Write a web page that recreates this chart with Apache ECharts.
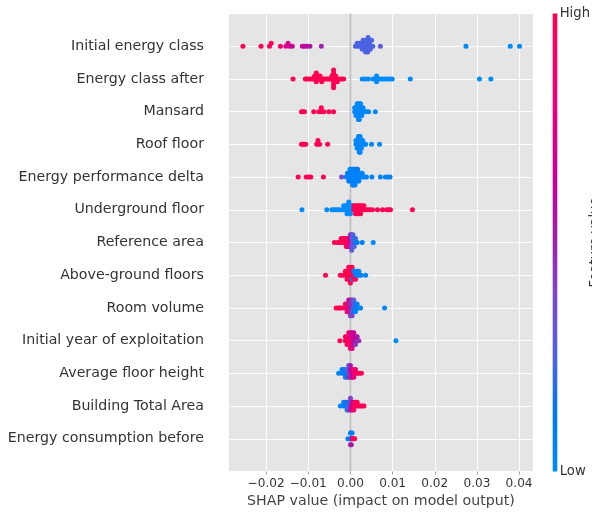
<!DOCTYPE html>
<html>
<head>
<meta charset="utf-8">
<script src="https://cdn.jsdelivr.net/npm/echarts@6/dist/echarts.min.js"></script>
<style>
  html, body { margin: 0; padding: 0; background: #ffffff; }
  #chart { width: 592px; height: 514px; }
</style>
</head>
<body>
<div id="chart"></div>
<script>
// Features, most important first (drawn top to bottom)
const features = [
  'Initial energy class',
  'Energy class after',
  'Mansard',
  'Roof floor',
  'Energy performance delta',
  'Underground floor',
  'Reference area',
  'Above-ground floors',
  'Room volume',
  'Initial year of exploitation',
  'Average floor height',
  'Building Total Area',
  'Energy consumption before'
];

// Each sample: [SHAP value, feature value scaled to 0 (low) .. 1 (high)]
const initialEnergyClass = [
  [-0.0255, 1], [-0.0212, 1], [-0.0192, 1], [-0.0188, 0.95], [-0.0166, 0.9],
  [-0.0153, 0.75], [-0.0148, 0.7], [-0.0144, 0.7], [-0.0138, 0.65],
  [-0.0114, 0.65], [-0.0109, 0.6], [-0.0103, 0.6], [-0.0096, 0.55], [-0.0069, 0.5],
  [0.0012, 0.25], [0.0016, 0.25], [0.0019, 0.25], [0.0022, 0.25], [0.0024, 0.25],
  [0.0026, 0.25], [0.0028, 0.25], [0.0030, 0.25], [0.0031, 0.25], [0.0033, 0.25],
  [0.0034, 0.25], [0.0035, 0.25], [0.0036, 0.25], [0.0037, 0.25], [0.0038, 0.25],
  [0.0039, 0.25], [0.0040, 0.25], [0.0041, 0.25], [0.0042, 0.25], [0.0044, 0.25],
  [0.0045, 0.25], [0.0047, 0.25], [0.0050, 0.25], [0.0053, 0.25],
  [0.0071, 0.3], [0.0274, 0], [0.0379, 0], [0.0401, 0]
];

const energyClassAfter = [
  [-0.0136, 1],
  [-0.0107, 1], [-0.0103, 1], [-0.0098, 1], [-0.0093, 1], [-0.0089, 1],
  [-0.0085, 1], [-0.0085, 1], [-0.0081, 1], [-0.0081, 1], [-0.0081, 1],
  [-0.0081, 1], [-0.0077, 1], [-0.0077, 1], [-0.0072, 1], [-0.0072, 1],
  [-0.0068, 1], [-0.0064, 1], [-0.0060, 1], [-0.0056, 1], [-0.0052, 1],
  [-0.0048, 1], [-0.0044, 1], [-0.0044, 1], [-0.0040, 1], [-0.0040, 1],
  [-0.0040, 1], [-0.0040, 1], [-0.0040, 1], [-0.0035, 1], [-0.0035, 1],
  [-0.0031, 1], [-0.0026, 1], [-0.0021, 1], [-0.0016, 1],
  [0.0028, 0], [0.0035, 0], [0.0042, 0], [0.0053, 0], [0.0062, 0],
  [0.0062, 0], [0.0062, 0], [0.0067, 0], [0.0072, 0], [0.0077, 0],
  [0.0083, 0], [0.0089, 0], [0.0094, 0], [0.0099, 0], [0.0142, 0],
  [0.0306, 0], [0.0333, 0]
];

const mansard = [
  [-0.0116, 1], [-0.0113, 1], [-0.0109, 1], [-0.0087, 1], [-0.0075, 1],
  [-0.0069, 1], [-0.0069, 1], [-0.0063, 1], [-0.0051, 1], [-0.0040, 1],
  [0.0010, 0.02], [0.0010, 0.02],
  [0.0013, 0.02], [0.0013, 0.02], [0.0013, 0.02],
  [0.0016, 0.02], [0.0016, 0.02], [0.0016, 0.02], [0.0016, 0.02],
  [0.0019, 0.02], [0.0019, 0.02], [0.0019, 0.02], [0.0019, 0.02], [0.0019, 0.02],
  [0.0021, 0.02], [0.0021, 0.02], [0.0021, 0.02], [0.0021, 0.02], [0.0021, 0.02],
  [0.0024, 0.02], [0.0024, 0.02], [0.0024, 0.02], [0.0024, 0.02],
  [0.0027, 0.02], [0.0027, 0.02], [0.0027, 0.02],
  [0.0030, 0.02], [0.0030, 0.02],
  [0.0034, 0.02], [0.0038, 0.02], [0.0043, 0.02], [0.0059, 0.02]
];

const roofFloor = [
  [-0.0116, 1], [-0.0113, 1], [-0.0110, 1], [-0.0106, 1], [-0.0080, 1],
  [-0.0077, 1], [-0.0077, 1], [-0.0073, 1], [-0.0054, 1],
  [0.0013, 0.02], [0.0013, 0.02],
  [0.0016, 0.02], [0.0016, 0.02], [0.0016, 0.02],
  [0.0019, 0.02], [0.0019, 0.02], [0.0019, 0.02], [0.0019, 0.02],
  [0.0021, 0.02], [0.0021, 0.02], [0.0021, 0.02], [0.0021, 0.02], [0.0021, 0.02],
  [0.0023, 0.02], [0.0023, 0.02], [0.0023, 0.02], [0.0023, 0.02], [0.0023, 0.02],
  [0.0026, 0.02], [0.0026, 0.02], [0.0026, 0.02],
  [0.0029, 0.02], [0.0029, 0.02],
  [0.0033, 0.02], [0.0036, 0.02], [0.0050, 0.02], [0.0069, 0.02]
];

const energyPerformanceDelta = [
  [-0.0124, 1], [-0.0105, 1], [-0.0099, 1], [-0.0094, 1], [-0.0064, 1],
  [-0.0021, 0.35],
  [-0.0010, 0.05],
  [-0.0007, 0.05], [-0.0007, 0.12],
  [-0.0004, 0.05], [-0.0004, 0.05], [-0.0004, 0.12],
  [-0.0001, 0.05], [-0.0001, 0.12], [-0.0001, 0.05], [-0.0001, 0.05],
  [0.0002, 0.05], [0.0002, 0.05], [0.0002, 0.12], [0.0002, 0.05],
  [0.0005, 0.05], [0.0005, 0.12], [0.0005, 0.05], [0.0005, 0.05], [0.0005, 0.05],
  [0.0008, 0.05], [0.0008, 0.05], [0.0008, 0.12], [0.0008, 0.05], [0.0008, 0.05],
  [0.0011, 0.05], [0.0011, 0.05], [0.0011, 0.05], [0.0011, 0.12], [0.0011, 0.05],
  [0.0014, 0.05], [0.0014, 0.12], [0.0014, 0.05], [0.0014, 0.05],
  [0.0017, 0.05], [0.0017, 0.05], [0.0017, 0.05], [0.0017, 0.12],
  [0.0020, 0.05], [0.0020, 0.05], [0.0020, 0.05],
  [0.0024, 0.05], [0.0024, 0.05],
  [0.0028, 0.05], [0.0028, 0.05],
  [0.0033, 0.05], [0.0038, 0.05],
  [0.0051, 0.05], [0.0071, 0.05], [0.0083, 0.05], [0.0089, 0.05], [0.0094, 0.05]
];

const undergroundFloor = [
  [-0.0115, 0], [-0.0056, 0], [-0.0044, 0], [-0.0040, 0], [-0.0035, 0],
  [-0.0030, 0], [-0.0026, 0],
  [-0.0020, 0],
  [-0.0016, 0], [-0.0016, 0],
  [-0.0012, 0], [-0.0012, 0],
  [-0.0008, 0], [-0.0008, 0], [-0.0008, 0],
  [-0.0004, 0], [-0.0004, 0], [-0.0004, 0], [-0.0004, 0],
  [0.0000, 0], [0.0000, 0], [0.0000, 0],
  [0.0004, 0], [0.0004, 0],
  [0.0008, 1], [0.0008, 1],
  [0.0012, 1], [0.0012, 1], [0.0012, 1],
  [0.0016, 1], [0.0016, 1], [0.0016, 1],
  [0.0020, 1], [0.0020, 1], [0.0020, 1],
  [0.0024, 1], [0.0024, 1], [0.0024, 1],
  [0.0028, 1], [0.0028, 1],
  [0.0032, 1], [0.0032, 1],
  [0.0036, 1], [0.0041, 1], [0.0046, 1], [0.0052, 1], [0.0064, 1],
  [0.0076, 1], [0.0086, 1], [0.0091, 1], [0.0095, 1], [0.0147, 1]
];

const referenceArea = [
  [-0.0038, 1], [-0.0030, 1], [-0.0026, 1],
  [-0.0022, 1], [-0.0022, 1],
  [-0.0018, 1], [-0.0018, 1],
  [-0.0014, 1], [-0.0014, 1],
  [-0.0010, 1], [-0.0010, 1], [-0.0010, 0.95],
  [-0.0006, 1], [-0.0006, 0.9], [-0.0006, 0.85],
  [-0.0003, 0.9], [-0.0003, 0.8], [-0.0003, 0.75],
  [0.0000, 0.7], [0.0000, 0.6], [0.0000, 0.55], [0.0000, 0.5],
  [0.0003, 0.45], [0.0003, 0.4], [0.0003, 0.35], [0.0003, 0.4], [0.0003, 0.3],
  [0.0006, 0.35], [0.0006, 0.3], [0.0006, 0.4], [0.0006, 0.25],
  [0.0009, 0.3], [0.0009, 0.2], [0.0009, 0.25],
  [0.0012, 0.15], [0.0012, 0.2],
  [0.0016, 0.1], [0.0028, 0.05], [0.0054, 0]
];

const aboveGroundFloors = [
  [-0.0059, 1], [-0.0024, 1], [-0.0018, 1],
  [-0.0012, 1], [-0.0012, 1],
  [-0.0008, 1], [-0.0008, 1], [-0.0008, 1],
  [-0.0004, 1], [-0.0004, 1], [-0.0004, 1], [-0.0004, 1],
  [0.0000, 1], [0.0000, 1], [0.0000, 1], [0.0000, 1], [0.0000, 1],
  [0.0004, 1], [0.0004, 1], [0.0004, 0.05], [0.0004, 1],
  [0.0008, 1], [0.0008, 0.05], [0.0008, 1],
  [0.0012, 0.05], [0.0012, 0.05], [0.0012, 1],
  [0.0016, 0.05], [0.0016, 0.05],
  [0.0020, 0.05], [0.0020, 0.05],
  [0.0025, 0.05], [0.0036, 0.05]
];

const roomVolume = [
  [-0.0034, 1], [-0.0029, 1], [-0.0025, 1], [-0.0020, 1],
  [-0.0012, 1], [-0.0012, 0.95],
  [-0.0008, 0.9], [-0.0008, 1], [-0.0008, 0.85],
  [-0.0004, 0.8], [-0.0004, 0.5], [-0.0004, 0.9], [-0.0004, 0.6],
  [0.0000, 0.5], [0.0000, 0.45], [0.0000, 0.55], [0.0000, 0.5], [0.0000, 0.4],
  [0.0004, 0.45], [0.0004, 0.5], [0.0004, 0.35], [0.0004, 0.45], [0.0004, 0.4],
  [0.0008, 0.2], [0.0008, 0.35], [0.0008, 0.15], [0.0008, 0.3],
  [0.0012, 0.1], [0.0012, 0.15], [0.0012, 0.05],
  [0.0016, 0.1], [0.0016, 0.05],
  [0.0020, 0.05], [0.0024, 0.05], [0.0081, 0]
];

const initialYearOfExploitation = [
  [-0.0025, 1],
  [-0.0012, 1], [-0.0012, 0.95],
  [-0.0008, 1], [-0.0008, 0.9], [-0.0008, 0.95],
  [-0.0004, 0.85], [-0.0004, 1], [-0.0004, 0.9], [-0.0004, 0.95],
  [0.0000, 0.9], [0.0000, 0.8], [0.0000, 1], [0.0000, 0.75], [0.0000, 0.85],
  [0.0004, 0.8], [0.0004, 0.7], [0.0004, 0.9], [0.0004, 0.65], [0.0004, 0.75],
  [0.0008, 0.6], [0.0008, 0.75], [0.0008, 0.55], [0.0008, 0.65],
  [0.0012, 0.5], [0.0012, 0.6], [0.0012, 0.45],
  [0.0016, 0.5], [0.0016, 0.55],
  [0.0020, 0.45],
  [0.0108, 0]
];

const averageFloorHeight = [
  [-0.0028, 0.05],
  [-0.0020, 0.1], [-0.0020, 0.05],
  [-0.0016, 0.05], [-0.0016, 0.15],
  [-0.0012, 0.1], [-0.0012, 0.05], [-0.0012, 0.2],
  [-0.0008, 0.15], [-0.0008, 0.3], [-0.0008, 0.1],
  [-0.0004, 0.35], [-0.0004, 0.2], [-0.0004, 0.45], [-0.0004, 0.25],
  [0.0000, 0.5], [0.0000, 0.6], [0.0000, 0.45], [0.0000, 0.55],
  [0.0004, 0.65], [0.0004, 0.7], [0.0004, 0.6],
  [0.0008, 0.75], [0.0008, 0.85], [0.0008, 0.8],
  [0.0012, 0.9], [0.0012, 0.85],
  [0.0016, 0.95], [0.0020, 0.9], [0.0026, 1]
];

const buildingTotalArea = [
  [-0.0024, 0.05],
  [-0.0016, 0.1], [-0.0016, 0.05],
  [-0.0012, 0.05], [-0.0012, 0.15],
  [-0.0008, 0.1], [-0.0008, 0.2], [-0.0008, 0.05],
  [-0.0004, 0.25], [-0.0004, 0.15], [-0.0004, 0.35],
  [0.0000, 0.45], [0.0000, 0.3], [0.0000, 0.55], [0.0000, 0.4],
  [0.0004, 0.65], [0.0004, 0.6], [0.0004, 0.75],
  [0.0008, 0.85], [0.0008, 0.8], [0.0008, 0.9],
  [0.0012, 0.95], [0.0012, 1],
  [0.0016, 1], [0.0016, 0.95],
  [0.0020, 1], [0.0024, 1], [0.0028, 1], [0.0032, 1]
];

const energyConsumptionBefore = [
  [-0.0006, 0.05],
  [0.0000, 0.1], [0.0000, 0.05], [0.0000, 0.45],
  [0.0002, 0.05], [0.0002, 0.15], [0.0002, 0.55],
  [0.0004, 0.7], [0.0004, 0.1],
  [0.0006, 0.85], [0.0008, 0.95], [0.0010, 1]
];

const featureRows = [
  initialEnergyClass, energyClassAfter, mansard, roofFloor,
  energyPerformanceDelta, undergroundFloor, referenceArea, aboveGroundFloors,
  roomVolume, initialYearOfExploitation, averageFloorHeight,
  buildingTotalArea, energyConsumptionBefore
];

// Tick positions on the SHAP axis
const xTickValues = [-0.02, -0.01, 0.00, 0.01, 0.02, 0.03, 0.04];

const colorbarLabels = ['High', 'Low'];
const colorbarTitle = 'Feature value';
const xAxisTitle = 'SHAP value (impact on model output)';

// Red-blue diverging palette, low -> high
const redBlue = ['#008bfb', '#0078f3', '#4c63e3', '#7d49cb', '#9c23ac',
                 '#c2009c', '#e00086', '#f5006d', '#ff0052'];

const X_MIN = -0.0288, X_MAX = 0.0433;
const W = 592, H = 514;
const GRID = { left: 229, right: 59, top: 13.5, bottom: 42.5 };
const FONT = 'DejaVu Sans';

// Beeswarm offsets: bin values along x, then stack points within a bin
// alternately above and below the row line.
function beeswarm(points) {
  const xs = points.map(p => p[0]);
  const lo = Math.min(...xs), hi = Math.max(...xs);
  const nbins = 100;
  const quant = xs.map(v => Math.round(nbins * (v - lo) / (hi - lo + 1e-8)));
  const order = xs.map((_, i) => i).sort((a, b) => quant[a] - quant[b] || a - b);
  const ys = new Array(xs.length).fill(0);
  let layer = 0, last = -1;
  for (const i of order) {
    if (quant[i] !== last) layer = 0;
    ys[i] = Math.ceil(layer / 2) * ((layer % 2) * 2 - 1);
    layer++;
    last = quant[i];
  }
  const peak = Math.max(...ys.map(y => y + 1));
  const rowHeight = 0.4;
  return ys.map(y => y * 0.9 * (rowHeight / peak));
}

const nRows = features.length;
const points = [];
featureRows.forEach((rows, i) => {
  const base = nRows - 1 - i;
  const offsets = beeswarm(rows);
  rows.forEach((p, j) => points.push([p[0], base + offsets[j], p[1]]));
});

function fmtTick(v) {
  const s = Math.abs(v).toFixed(2);
  return (v < -1e-12 ? '\u2212' : '') + s;
}

const chart = echarts.init(document.getElementById('chart'), null, { renderer: 'canvas' });

const plotH = H - GRID.top - GRID.bottom;
const barX = W - GRID.right + 19.7;

chart.setOption({
  animation: false,
  backgroundColor: '#ffffff',
  textStyle: { fontFamily: FONT },
  grid: {
    left: GRID.left, right: GRID.right, top: GRID.top, bottom: GRID.bottom,
    show: true, backgroundColor: '#e5e5e5', borderWidth: 0
  },
  xAxis: {
    type: 'value',
    position: 'bottom',
    min: X_MIN, max: X_MAX,
    axisLine: { show: false, onZero: false },
    axisTick: {
      show: true, length: 3, customValues: xTickValues,
      lineStyle: { color: '#a0a0a0', width: 1 }
    },
    axisLabel: {
      show: true, color: '#333333', fontSize: 12.1, fontFamily: FONT, margin: 6,
      customValues: xTickValues,
      formatter: fmtTick
    },
    splitLine: { show: true, lineStyle: { color: '#ffffff', width: 1 } },
    name: xAxisTitle,
    nameLocation: 'middle',
    nameGap: 23,
    nameTextStyle: { color: '#444444', fontSize: 14.2, fontFamily: FONT }
  },
  yAxis: {
    type: 'value',
    min: -1, max: nRows, interval: 1,
    axisLine: { show: false, onZero: false },
    axisTick: { show: false },
    axisLabel: {
      color: '#333333', fontSize: 14.2, fontFamily: FONT, margin: 25,
      formatter: v => (v >= 0 && v < nRows) ? features[nRows - 1 - v] : ''
    },
    splitLine: { show: true, lineStyle: { color: '#ffffff', width: 1 } }
  },
  visualMap: {
    show: false,
    type: 'continuous',
    dimension: 2,
    min: 0, max: 1,
    seriesIndex: 1,
    inRange: { color: redBlue }
  },
  series: [
    {
      type: 'line',
      data: [[0, -1], [0, nRows]],
      symbol: 'none',
      silent: true,
      z: 1,
      lineStyle: { color: '#c3c3c3', width: 1.8 }
    },
    {
      type: 'scatter',
      data: points,
      symbolSize: 5,
      z: 2,
      itemStyle: { opacity: 1, borderWidth: 0 }
    }
  ],
  graphic: [
    {
      type: 'rect',
      shape: { x: barX, y: GRID.top, width: 4.6, height: plotH },
      style: {
        fill: new echarts.graphic.LinearGradient(0, 1, 0, 0,
          redBlue.map((c, i) => ({ offset: i / (redBlue.length - 1), color: c })))
      },
      silent: true
    },
    {
      type: 'text', x: barX + 7, y: GRID.top,
      style: { text: colorbarLabels[0], fill: '#333333', fontSize: 13.2, fontFamily: FONT,
               align: 'left', verticalAlign: 'middle' }
    },
    {
      type: 'text', x: barX + 7, y: GRID.top + plotH,
      style: { text: colorbarLabels[1], fill: '#333333', fontSize: 13.2, fontFamily: FONT,
               align: 'left', verticalAlign: 'middle' }
    },
    {
      type: 'text', x: 596, y: GRID.top + plotH / 2,
      rotation: Math.PI / 2,
      style: { text: colorbarTitle, fill: '#333333', fontSize: 13.2, fontFamily: FONT,
               align: 'center', verticalAlign: 'middle' }
    }
  ]
});
</script>
</body>
</html>
